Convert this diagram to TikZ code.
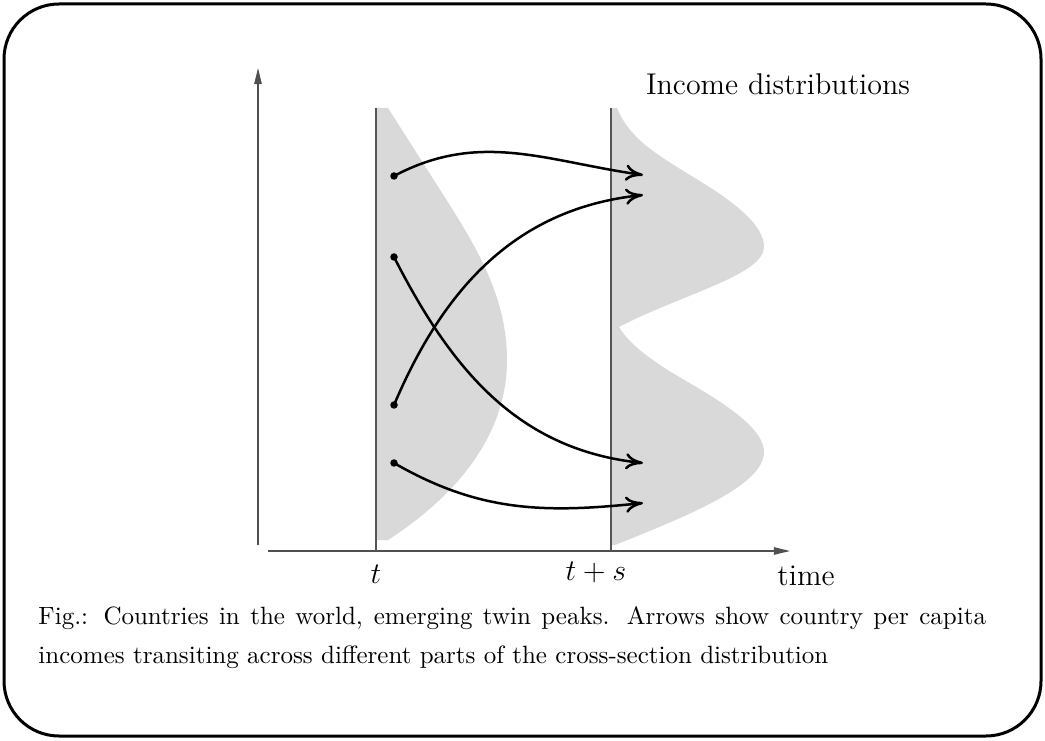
\documentclass[tikz,border=0pt]{standalone}
\usetikzlibrary{arrows.meta}
\definecolor{ink}{HTML}{000000}
\definecolor{axisgray}{HTML}{505050}
\definecolor{linegray}{HTML}{555555}
\definecolor{densfill}{HTML}{D9D9D9}
\tikzset{
 frame/.style={draw=ink,line width=1.2pt,rounded corners=22pt},
 axis/.style={draw=axisgray,line width=.6pt,-{Triangle[length=6.5pt,width=3pt]}},
 period/.style={draw=linegray,line width=.5pt},
 density/.style={fill=densfill,draw=none},
 dot/.style={circle,fill=ink,inner sep=0pt,minimum size=3pt},
 move/.style={draw=ink,line width=1pt,-{To[length=7pt,width=6.5pt]}},
 ticklabel/.style={font=\large,inner sep=1pt},
}

\begin{document}
\begin{tikzpicture}[x=0.4pt,y=0.4pt]
\useasboundingbox (0,0) rectangle (1045,740);
\draw[frame] (4,4) rectangle (1041,736);

% cross-section densities at t and t+s
\fill[density] (376,632) -- (388,632) -- (430,566)
  .. controls (470,503) and (507,450) .. (507,380)
  .. controls (507,300) and (450,240) .. (388,200)
  -- (376,200) -- cycle;
\fill[density] (611,632) -- (617,632)
  .. controls (628,605) and (650,590) .. (677,573)
  .. controls (700,558) and (764,525) .. (764,493)
  .. controls (764,465) and (680,445) .. (619,413)
  .. controls (628,398) and (645,385) .. (663,373)
  .. controls (690,355) and (764,320) .. (764,288)
  .. controls (764,255) and (690,225) .. (615,195)
  -- (611,195) -- cycle;

% axes and dates
\draw[axis] (258,195) -- (258,672);
\draw[axis] (268,189) -- (790,189);
\draw[period] (376,189) -- (376,632);
\draw[period] (611,189) -- (611,632);
\node[ticklabel] (tlab) at (376,166) {$t$};
\node[ticklabel] (tslab) at (596,168) {$t+s$};
\node[ticklabel] (timelab) at (806,164) {time};
\node[font=\large] (title) at (778,656) {Income distributions};

% countries moving across the distribution
\node[dot] (src1) at (394,564) {};
\node[dot] (src2) at (394,483) {};
\node[dot] (src3) at (394,335) {};
\node[dot] (src4) at (394,277) {};
\coordinate (dst1) at (643,565);
\coordinate (dst2) at (643,545);
\coordinate (dst3) at (643,277);
\coordinate (dst4) at (643,237);
\draw[move] (src1.center) to[out=28,in=172] (dst1);
\draw[move] (src3.center) to[out=67,in=186] (dst2);
\draw[move] (src2.center) to[out=-63,in=174] (dst3);
\draw[move] (src4.center) to[out=-30,in=186] (dst4);

\node[anchor=north west,inner sep=0pt,text width=379pt,align=justify,font=\fontsize{10}{15.5}\selectfont] (caption) at (38,134)
 {Fig.: Countries in the world, emerging twin peaks. Arrows show country per capita incomes transiting across different parts of the cross-section distribution};
\end{tikzpicture}
\end{document}
